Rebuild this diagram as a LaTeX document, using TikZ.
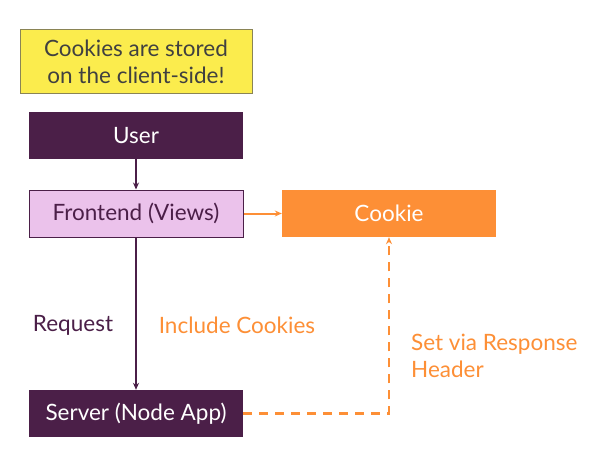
\documentclass[tikz,border=0pt]{standalone}
\usepackage{fontspec}
\setmainfont{Lato}
\usetikzlibrary{arrows.meta}
\definecolor{plum}{HTML}{4B1F48}
\definecolor{lilac}{HTML}{EBC2EB}
\definecolor{tangerine}{HTML}{FD8F36}
\definecolor{lemon}{HTML}{FBEC4D}
\definecolor{olive}{HTML}{8A8455}
\begin{document}
\begin{tikzpicture}[x=1pt,y=1pt,font=\fontsize{22.5}{27}\selectfont,
  box/.style={minimum width=214pt,minimum height=47pt,inner sep=0pt},
  flow/.style={line width=2pt,-{Stealth[length=7pt,width=6pt]}}]

\useasboundingbox[fill=white] (0,0) rectangle (593,-468);

\node[draw=olive,line width=1pt,fill=lemon,text=black!75,minimum width=232pt,minimum height=64pt,
  inner sep=0pt,align=center] (note) at (136,-62) {Cookies are stored\\on the client-side!};

\node[box,fill=plum,text=white] (user) at (136,-135.5) {User};
\node[box,draw=plum,line width=1pt,fill=lilac,text=plum] (front) at (136,-213.5) {Frontend (Views)};
\node[box,fill=tangerine,text=white] (cookie) at (389,-213.5) {Cookie};
\node[box,fill=plum,text=white] (server) at (136,-413.5) {Server (Node App)};

\node[text=plum] (req) at (73,-325) {Request};
\node[text=tangerine] (incl) at (237,-325) {Include Cookies};
\node[text=tangerine,align=left,anchor=west,inner sep=0pt] (resp) at (411,-356) {Set via Response\\Header};

\draw[flow,plum] (user) -- (front);
\draw[flow,plum] (front) -- (server);
\draw[flow,tangerine] (front) -- (cookie);
\draw[flow,tangerine,dash pattern=on 9pt off 7pt,line width=2.5pt] (server.east) -| (cookie.south);

\end{tikzpicture}
\end{document}
